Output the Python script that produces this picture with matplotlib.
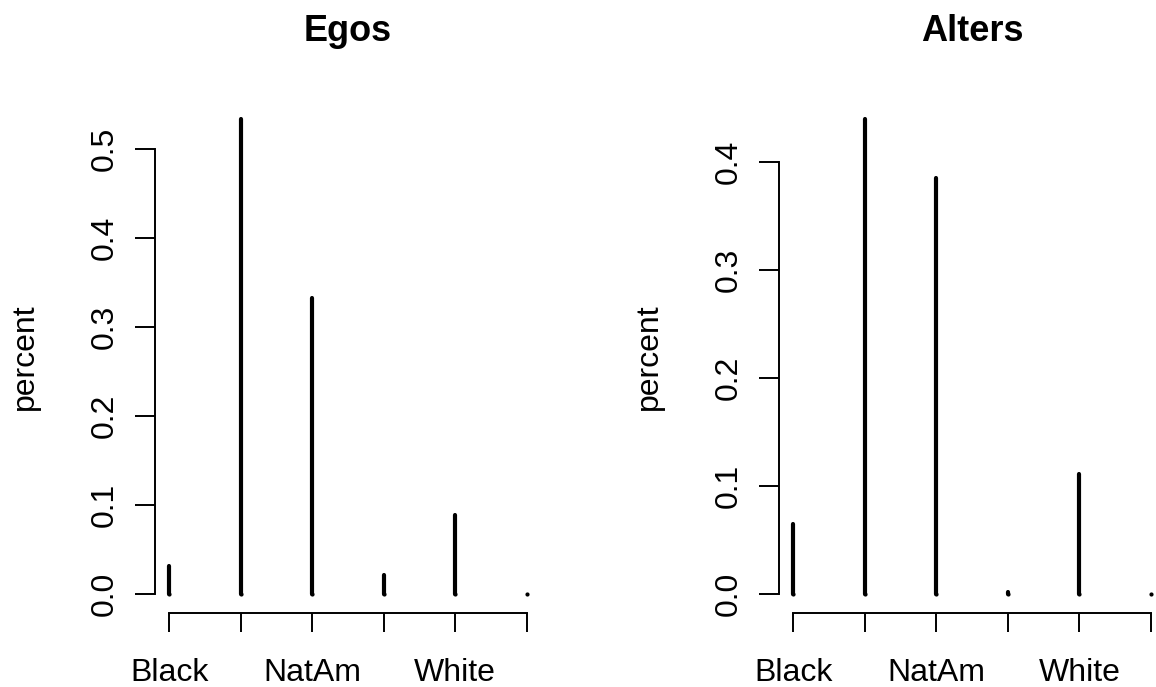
"""Egos vs alters: share of each race category, drawn as R-style histogram-type spikes."""

import matplotlib
matplotlib.use("Agg")
import matplotlib.pyplot as plt

plt.rcParams["font.family"] = ["Liberation Sans", "DejaVu Sans"]

CATEGORIES = ["Black", "Latino", "NatAm", "Other", "White", "Unknown"]
EGOS = [0.031, 0.533, 0.333, 0.021, 0.089, 0.0]
ALTERS = [0.065, 0.439, 0.385, 0.002, 0.111, 0.0]
Y_TICKS_EGOS = [0.0, 0.1, 0.2, 0.3, 0.4, 0.5]
Y_TICKS_ALTERS = [0.0, 0.1, 0.2, 0.3, 0.4]


def spike_panel(ax, values, yticks, title):
    xs = list(range(1, len(values) + 1))
    for x, v in zip(xs, values):
        ax.plot([x, x], [0, v], color="black", lw=3.0, solid_capstyle="round")
        ax.plot([x], [0], "o", color="black", ms=3.0, mew=0)
    top = max(values)
    ax.set_xlim(1 - 0.04 * (len(xs) - 1), len(xs) + 0.04 * (len(xs) - 1))
    ax.set_ylim(-0.04 * top, top * 1.04)

    for side in ("top", "right"):
        ax.spines[side].set_visible(False)
    ax.spines["left"].set_bounds(yticks[0], yticks[-1])
    ax.spines["bottom"].set_bounds(xs[0], xs[-1])
    for side in ("left", "bottom"):
        ax.spines[side].set_linewidth(1.4)

    ax.set_xticks(xs)
    ax.set_xticklabels([c if i % 2 == 0 else "" for i, c in enumerate(CATEGORIES)])
    ax.set_yticks(yticks)
    ax.set_yticklabels([f"{t:.1f}" for t in yticks], rotation=90, va="center")
    ax.tick_params(axis="x", length=13.7, width=1.4, pad=18.5, labelsize=23)
    ax.tick_params(axis="y", length=14.4, width=1.4, pad=11, labelsize=23)
    ax.set_ylabel("percent", fontsize=23, labelpad=36)
    ax.set_title(title, fontsize=26, fontweight="bold", pad=43)


def main():
    fig = plt.figure(figsize=(11.56, 6.87), dpi=100)
    ax1 = fig.add_axes([0.134, 0.1077, 0.334, 0.746])
    ax2 = fig.add_axes([0.674, 0.1077, 0.334, 0.746])
    spike_panel(ax1, EGOS, Y_TICKS_EGOS, "Egos")
    spike_panel(ax2, ALTERS, Y_TICKS_ALTERS, "Alters")
    fig.savefig("out.png", dpi=100)
    plt.close(fig)


if __name__ == "__main__":
    main()
